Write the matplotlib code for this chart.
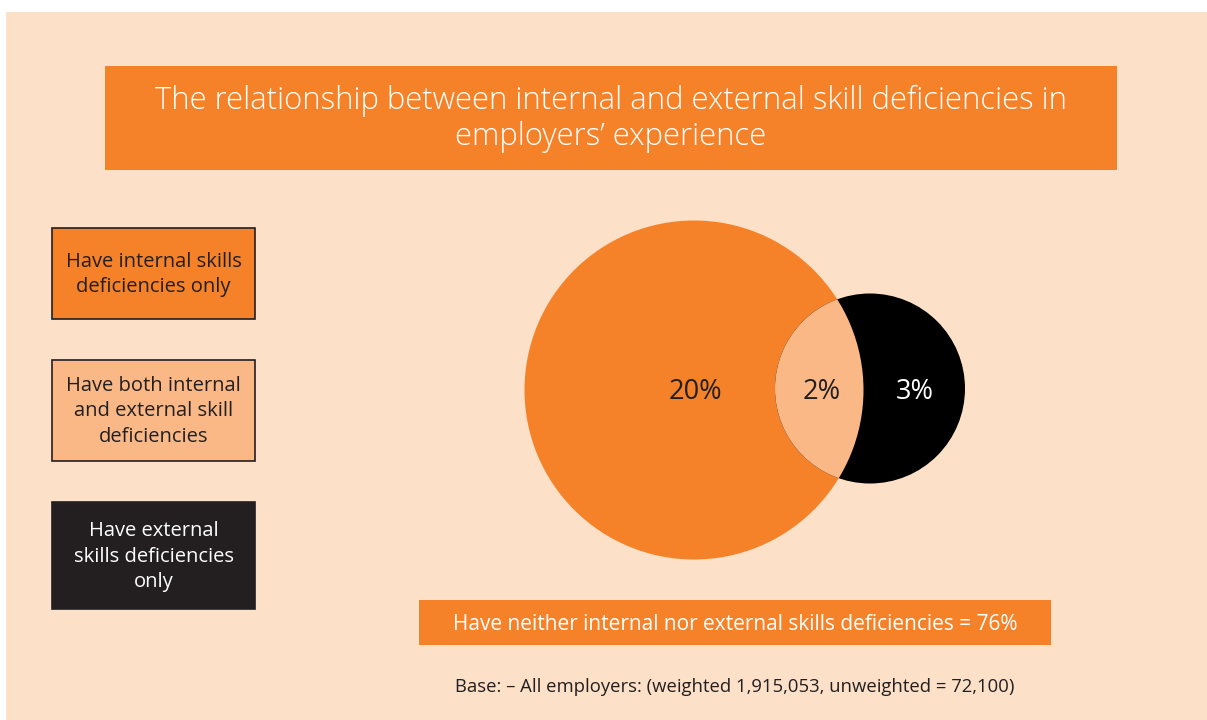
import matplotlib
matplotlib.use('Agg')
import matplotlib.pyplot as plt
from matplotlib.patches import Rectangle, Circle

# Venn shares of employers
venn_labels = ['20%', '2%', '3%']
legend_texts = ['Have internal skills\ndeficiencies only',
                'Have both internal\nand external skill\ndeficiencies',
                'Have external\nskills deficiencies\nonly']
title_text = 'The relationship between internal and external skill deficiencies in\nemployers\u2019 experience'
neither_text = 'Have neither internal nor external skills deficiencies = 76%'
base_text = 'Base: \u2013 All employers: (weighted 1,915,053, unweighted = 72,100)'

ORANGE = '#F58229'
LIGHT = '#F9B886'
BLACK = '#000000'
DARK = '#231F20'
PANEL = '#FCE0C8'

plt.rcParams['font.family'] = ['Open Sans', 'DejaVu Sans']

fig = plt.figure(figsize=(12.07, 7.2), dpi=100)
fig.patch.set_facecolor('white')
ax = fig.add_axes([0, 0, 1, 1])
ax.set_xlim(0, 1207)
ax.set_ylim(720, 0)
ax.axis('off')

# background panel
ax.add_patch(Rectangle((6, 12), 1201, 708, facecolor=PANEL, edgecolor='none'))

# title banner
ax.add_patch(Rectangle((105, 66), 1012, 104, facecolor=ORANGE, edgecolor='none'))
ax.text(611, 119, title_text, color='white', fontsize=22.3, ha='center', va='center',
        linespacing=1.17, fontweight='light')

# legend boxes
box_tops = [228, 360, 502]
box_heights = [91, 101, 107]
box_colors = [ORANGE, LIGHT, DARK]
txt_colors = [DARK, DARK, 'white']
for top, h, c, tc, t in zip(box_tops, box_heights, box_colors, txt_colors, legend_texts):
    ax.add_patch(Rectangle((52, top), 203, h, facecolor=c, edgecolor=DARK, lw=1.2))
    ax.text(153.5, top + h / 2 + 1, t, color=tc, fontsize=14.5, ha='center', va='center',
            linespacing=1.38)

# venn circles
big = Circle((694, 390), 169.5, facecolor=ORANGE, edgecolor='none')
small = Circle((870, 388.5), 95, facecolor=BLACK, edgecolor='none')
ax.add_patch(big)
ax.add_patch(small)
lens = Circle((870, 388.5), 95, facecolor=LIGHT, edgecolor='none')
ax.add_patch(lens)
lens.set_clip_path(big)

label_x = [695, 822, 915]
label_c = [DARK, DARK, 'white']
for x, lab, c in zip(label_x, venn_labels, label_c):
    ax.text(x, 392, lab, color=c, fontsize=19.5, ha='center', va='center')

# bottom bar and base note
ax.add_patch(Rectangle((419, 600), 632, 45, facecolor=ORANGE, edgecolor='none'))
ax.text(735, 624, neither_text, color='white', fontsize=15, ha='center', va='center')
ax.text(735, 687, base_text, color=DARK, fontsize=13.3, ha='center', va='center')

plt.savefig('out.png', dpi=100, facecolor=fig.get_facecolor())
